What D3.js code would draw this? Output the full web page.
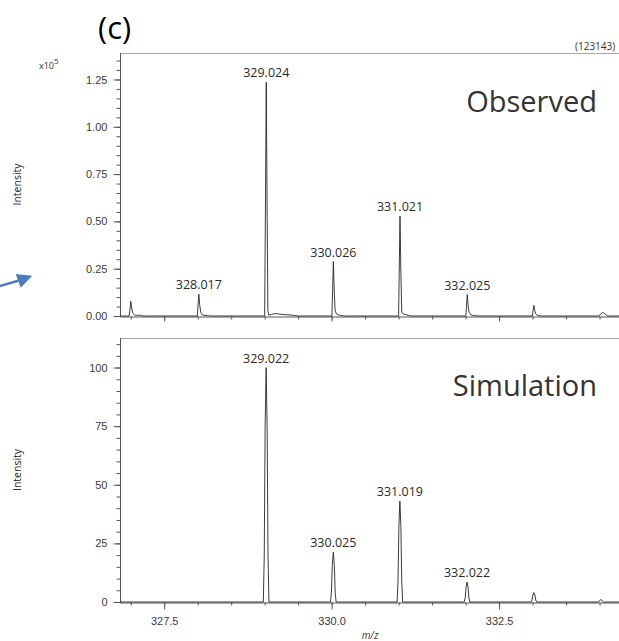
<!DOCTYPE html>
<html>
<head>
<meta charset="utf-8">
<script src="https://cdn.jsdelivr.net/npm/d3@7"></script>
<style>
  body { margin: 0; background: #fff; }
  svg { display: block; font-family: "Open Sans", sans-serif; }
  .axis path, .axis line { stroke: #555; }
  .axis text { fill: #3a3a3a; font-size: 11px; }
</style>
</head>
<body>
<div id="chart"></div>
<script>
// x ticks (m/z)
const xMajorTicks = [327.5, 330.0, 332.5];
const xMinorTicks = [327.0, 327.5, 328.0, 328.5, 329.0, 329.5, 330.0, 330.5, 331.0, 331.5, 332.0, 332.5, 333.0, 333.5, 334.0];

// observed panel (intensity x10^5)
const obsTicks = [0, 0.25, 0.5, 0.75, 1.0, 1.25];
const obsMinorTicks = [0, 0.05, 0.1, 0.15, 0.2, 0.25, 0.3, 0.35, 0.4, 0.45, 0.5, 0.55, 0.6, 0.65, 0.7, 0.75, 0.8, 0.85, 0.9, 0.95, 1.0, 1.05, 1.1, 1.15, 1.2, 1.25, 1.3, 1.35];
const obsLabels = ["328.017", "329.024", "330.026", "331.021", "332.025"];
const obsLabelMz = [328.017, 329.024, 330.026, 331.021, 332.025];
const obsLabelInt = [0.115, 1.235, 0.288, 0.528, 0.113];
const obsProfile = [
  [326.84, 0], [326.975, 0], [326.988, 0.03], [327.0, 0.078], [327.015, 0.042], [327.03, 0.015],
  [327.06, 0.005], [327.1, 0.003], [327.13, 0.005], [327.16, 0.002], [327.2, 0],
  [327.995, 0], [328.005, 0.055], [328.017, 0.115], [328.031, 0.055], [328.046, 0.02],
  [328.07, 0.006], [328.11, 0.003], [328.15, 0.001], [328.2, 0],
  [329.0, 0], [329.011, 0.55], [329.024, 1.235], [329.037, 0.55], [329.048, 0.03],
  [329.06, 0.005], [329.1, 0.008], [329.15, 0.013], [329.2, 0.011], [329.3, 0.007],
  [329.4, 0.005], [329.45, 0.002], [329.5, 0],
  [330.004, 0], [330.014, 0.13], [330.026, 0.288], [330.039, 0.13], [330.052, 0.03],
  [330.07, 0.012], [330.1, 0.006], [330.15, 0.002], [330.2, 0],
  [331.0, 0], [331.009, 0.23], [331.021, 0.528], [331.034, 0.23], [331.047, 0.02],
  [331.07, 0.01], [331.1, 0.008], [331.15, 0.003], [331.2, 0],
  [332.004, 0], [332.014, 0.055], [332.025, 0.113], [332.038, 0.055], [332.052, 0.02],
  [332.08, 0.006], [332.12, 0.002], [332.2, 0],
  [332.998, 0], [333.008, 0.03], [333.02, 0.056], [333.032, 0.03], [333.047, 0.012],
  [333.07, 0.004], [333.1, 0.001], [333.15, 0],
  [333.99, 0], [334.02, 0.012], [334.04, 0.018], [334.06, 0.017], [334.09, 0.008],
  [334.12, 0.002], [334.15, 0], [334.455, 0]
];

// simulation panel (relative intensity)
const simTicks = [0, 25, 50, 75, 100];
const simMinorTicks = [0, 5, 10, 15, 20, 25, 30, 35, 40, 45, 50, 55, 60, 65, 70, 75, 80, 85, 90, 95, 100, 105, 110];
const simLabels = ["329.022", "330.025", "331.019", "332.022"];
const simLabelMz = [329.022, 330.025, 331.019, 332.022];
const simLabelInt = [100, 21.2, 43, 8.5];
const simProfile = [
  [326.84, 0],
  [328.98, 0], [328.994, 20], [329.007, 75], [329.022, 100], [329.037, 75], [329.05, 20], [329.064, 0],
  [329.983, 0], [329.997, 4.2], [330.01, 15.9], [330.025, 21.2], [330.04, 15.9], [330.053, 4.2], [330.067, 0],
  [330.977, 0], [330.991, 8.6], [331.004, 32.2], [331.019, 43], [331.034, 32.2], [331.047, 8.6], [331.061, 0],
  [331.98, 0], [331.994, 1.7], [332.007, 6.4], [332.022, 8.5], [332.037, 6.4], [332.05, 1.7], [332.064, 0],
  [332.978, 0], [332.992, 0.8], [333.005, 3.0], [333.02, 4.0], [333.035, 3.0], [333.048, 0.8], [333.062, 0],
  [333.978, 0], [333.992, 0.2], [334.005, 0.75], [334.02, 1.0], [334.035, 0.75], [334.048, 0.2], [334.062, 0],
  [334.455, 0]
];

const width = 619, height = 641;
const left = 120, right = 630;

const svg = d3.select("#chart").append("svg")
  .attr("width", width)
  .attr("height", height);

const x = d3.scaleLinear().domain([326.84, 334.455]).range([left, right]);

function drawPanel(top, bottom, yMax, ticks, minorTicks, fmt, profile, labels, labelMz, labelInt, title, titleY, showXLabels, xMajorLen) {
  const y = d3.scaleLinear().domain([0, yMax]).range([bottom, top]);

  // frame top line
  svg.append("line")
    .attr("x1", left).attr("x2", right)
    .attr("y1", top + 0.5).attr("y2", top + 0.5)
    .attr("stroke", "#a8a8a8");

  // y minor ticks
  svg.append("g").attr("class", "axis")
    .attr("transform", `translate(${left + 0.5},0)`)
    .call(d3.axisLeft(y).tickValues(minorTicks).tickSize(4).tickSizeOuter(0).tickFormat(""))
    .call(g => g.select(".domain").attr("d", `M0,${top}V${bottom}`));

  // y major ticks
  svg.append("g").attr("class", "axis")
    .attr("transform", `translate(${left + 0.5},0)`)
    .call(d3.axisLeft(y).tickValues(ticks).tickSize(7).tickSizeOuter(0).tickPadding(6).tickFormat(fmt))
    .call(g => g.select(".domain").remove());

  // x minor ticks
  svg.append("g").attr("class", "axis")
    .attr("transform", `translate(0,${bottom + 0.5})`)
    .call(d3.axisBottom(x).tickValues(xMinorTicks).tickSize(3).tickSizeOuter(0).tickFormat(""));

  // x major ticks
  svg.append("g").attr("class", "axis")
    .attr("transform", `translate(0,${bottom + 0.5})`)
    .call(d3.axisBottom(x).tickValues(xMajorTicks).tickSize(xMajorLen).tickSizeOuter(0).tickPadding(8)
      .tickFormat(showXLabels ? d3.format(".1f") : ""))
    .call(g => g.select(".domain").remove());

  // spectrum trace
  const line = d3.line().x(d => x(d[0])).y(d => y(d[1]));
  svg.append("path")
    .datum(profile)
    .attr("d", line)
    .attr("fill", "none")
    .attr("stroke", "#262626")
    .attr("stroke-width", 0.9);

  // peak labels
  svg.append("g").selectAll("text")
    .data(labels)
    .join("text")
    .attr("x", (d, i) => x(labelMz[i]))
    .attr("y", (d, i) => y(labelInt[i]) - 5)
    .attr("text-anchor", "middle")
    .attr("font-size", 12.5)
    .attr("fill", "#2a2a2a")
    .text(d => d);

  svg.append("text")
    .attr("x", 597).attr("y", titleY)
    .attr("text-anchor", "end")
    .attr("font-size", 29)
    .attr("fill", "#333")
    .text(title);

  svg.append("text")
    .attr("transform", `translate(21,${(top + bottom) / 2}) rotate(-90)`)
    .attr("text-anchor", "middle")
    .attr("font-size", 10.5)
    .attr("fill", "#222")
    .text("Intensity");
}

drawPanel(53, 316, 1.39, obsTicks, obsMinorTicks, d3.format(".2f"), obsProfile,
  obsLabels, obsLabelMz, obsLabelInt, "Observed", 112, false, 5);
drawPanel(338, 602, 112.6, simTicks, simMinorTicks, d3.format("d"), simProfile,
  simLabels, simLabelMz, simLabelInt, "Simulation", 396, true, 7);

// panel letter and extra text
svg.append("text")
  .attr("x", 98).attr("y", 39)
  .attr("font-size", 31)
  .attr("fill", "#000")
  .text("(c)");

const sci = svg.append("text")
  .attr("x", 39).attr("y", 69)
  .attr("font-size", 9)
  .attr("fill", "#333");
sci.append("tspan").text("x10");
sci.append("tspan").attr("dy", -5).attr("font-size", 8).text("5");

svg.append("text")
  .attr("x", 575).attr("y", 50)
  .attr("font-size", 10)
  .attr("fill", "#333")
  .text("(123143)");

svg.append("text")
  .attr("x", 370).attr("y", 639)
  .attr("text-anchor", "middle")
  .attr("font-size", 10)
  .attr("font-style", "italic")
  .attr("fill", "#333")
  .text("m/z");

// blue arrow at left edge
svg.append("line")
  .attr("x1", -2).attr("y1", 286.5)
  .attr("x2", 19).attr("y2", 280.5)
  .attr("stroke", "#4a7ebb")
  .attr("stroke-width", 2.5);
svg.append("path")
  .attr("d", "M32.3,275.7L15.7,274L20.7,287.7Z")
  .attr("fill", "#4a7ebb");
</script>
</body>
</html>
